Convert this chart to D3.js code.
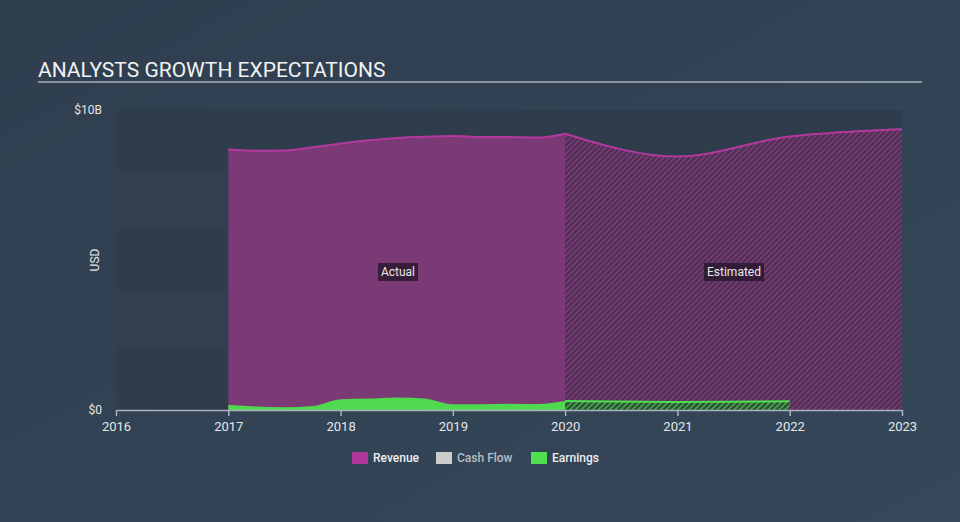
<!DOCTYPE html>
<html>
<head>
<meta charset="utf-8">
<script src="https://cdn.jsdelivr.net/npm/d3@7"></script>
<style>
html,body{margin:0;padding:0;}
body{width:960px;height:522px;overflow:hidden;background:#334354;font-family:Roboto,"Open Sans",sans-serif;}
</style>
</head>
<body>
<svg id="chart" width="960" height="522"></svg>
<script>
// ---- data ----
const revenueActualYears  = [2017, 2017.25, 2017.5, 2017.75, 2018, 2018.25, 2018.5, 2018.75, 2019, 2019.25, 2019.5, 2019.75, 2020];
const revenueActual       = [8.69, 8.64, 8.65, 8.76, 8.88, 8.99, 9.07, 9.11, 9.13, 9.10, 9.10, 9.08, 9.21];
const revenueEstYears     = [2020, 2021, 2022, 2022.5, 2023];
const revenueEst          = [9.21, 8.45, 9.12, 9.27, 9.36];
const earningsActualYears = [2017, 2017.25, 2017.5, 2017.75, 2018, 2018.25, 2018.5, 2018.75, 2019, 2019.25, 2019.5, 2019.75, 2020];
const earningsActual      = [0.17, 0.12, 0.09, 0.13, 0.36, 0.38, 0.42, 0.38, 0.19, 0.19, 0.21, 0.20, 0.30];
const earningsEstYears    = [2020, 2021, 2022];
const earningsEst         = [0.30, 0.27, 0.29];
const cashFlowYears       = [];
const cashFlow            = [];
const xTicks = [2016, 2017, 2018, 2019, 2020, 2021, 2022, 2023];
const yTickLabels = ["$0", "$10B"];
const legendItems = ["Revenue", "Cash Flow", "Earnings"];

// ---- layout ----
const svg = d3.select("#chart");
const W = 960, H = 522;
const m = {left:116, right:58, top:110, bottom:112};
const x = d3.scaleLinear().domain([2016, 2023]).range([m.left, W - m.right]);
const y = d3.scaleLinear().domain([0, 10]).range([H - m.bottom, m.top]);

const defs = svg.append("defs");
const bg = defs.append("linearGradient").attr("id","bg").attr("x1","0").attr("y1","0").attr("x2","1").attr("y2","1");
bg.append("stop").attr("offset","0").attr("stop-color","#2f3e4f");
bg.append("stop").attr("offset","1").attr("stop-color","#35475a");

function hatch(id, color, base){
  const p = defs.append("pattern").attr("id", id).attr("patternUnits","userSpaceOnUse")
    .attr("width",4).attr("height",4).attr("patternTransform","rotate(45)");
  p.append("rect").attr("width",4).attr("height",4).attr("fill",base);
  p.append("rect").attr("x",0).attr("y",0).attr("width",1.5).attr("height",4).attr("fill",color);
}
hatch("hatchRev", "#8c3583", "#46344f");
hatch("hatchEarn", "#45b845", "#2f4a3c");

svg.append("rect").attr("width",W).attr("height",H).attr("fill","url(#bg)");

// title
svg.append("text").attr("x",38).attr("y",77).attr("fill","#f2f2f2")
  .attr("font-size",21).attr("font-weight",400).text("ANALYSTS GROWTH EXPECTATIONS");
svg.append("line").attr("x1",38).attr("x2",922).attr("y1",82).attr("y2",82)
  .attr("stroke","#a9b0b8").attr("stroke-width",1.5);

// plot bands
const bandVals = [0,2,4,6,8];
svg.append("g").selectAll("rect").data(bandVals).join("rect")
  .attr("x", x(2016)).attr("width", x(2023) - x(2016))
  .attr("y", d => y(d + 2)).attr("height", d => y(d) - y(d + 2))
  .attr("fill", (d,i) => i % 2 === 0 ? "#2e3c4c" : "#323f50");

// areas
const area = d3.area().x(d => x(d[0])).y0(y(0)).y1(d => y(d[1])).curve(d3.curveMonotoneX);
const line = d3.line().x(d => x(d[0])).y(d => y(d[1])).curve(d3.curveMonotoneX);
const zip = (a,b) => a.map((v,i) => [v, b[i]]);

const revA = zip(revenueActualYears, revenueActual);
const revE = zip(revenueEstYears, revenueEst);
const earnA = zip(earningsActualYears, earningsActual);
const earnE = zip(earningsEstYears, earningsEst);

svg.append("path").attr("d", area(revA)).attr("fill","#7b3a75");
svg.append("path").attr("d", area(revE)).attr("fill","url(#hatchRev)");
svg.append("path").attr("d", line(revA)).attr("fill","none").attr("stroke","#b4399f").attr("stroke-width",2);
svg.append("path").attr("d", line(revE)).attr("fill","none").attr("stroke","#b4399f").attr("stroke-width",2);

svg.append("path").attr("d", area(earnA)).attr("fill","#4fd94f");
svg.append("path").attr("d", area(earnE)).attr("fill","url(#hatchEarn)");
svg.append("path").attr("d", line(earnE)).attr("fill","none").attr("stroke","#4fe04f").attr("stroke-width",2);

// x axis
const xAxis = d3.axisBottom(x).tickValues(xTicks).tickFormat(d3.format("d")).tickSize(6).tickSizeOuter(0);
const gx = svg.append("g").attr("transform", `translate(0,${y(0)})`).call(xAxis);
gx.select(".domain").attr("stroke","#a9b3be").attr("stroke-width",1.5);
gx.selectAll(".tick line").attr("stroke","#a9b3be").attr("stroke-width",1.5);
gx.selectAll(".tick text").attr("fill","#e6e6e6").attr("font-size",13).attr("font-family","Roboto,sans-serif").attr("dy","0.95em");

// y labels
svg.append("g").selectAll("text").data([0,10]).join("text")
  .attr("x", 102).attr("y", d => y(d) + 4).attr("text-anchor","end")
  .attr("fill","#e6e6e6").attr("font-size",12)
  .text((d,i) => yTickLabels[i]);
svg.append("text").attr("transform", `translate(99,${y(5)}) rotate(-90)`)
  .attr("text-anchor","middle").attr("fill","#e6e6e6").attr("font-size",12).text("USD");

// Actual / Estimated labels
function tag(cx, cy, txt){
  const g = svg.append("g");
  const t = g.append("text").attr("x",cx).attr("y",cy+4).attr("text-anchor","middle")
    .attr("fill","#e8e8e8").attr("font-size",12).text(txt);
  const bb = t.node().getBBox();
  g.insert("rect","text").attr("x",bb.x-3).attr("y",cy-9).attr("width",bb.width+6).attr("height",18)
    .attr("fill","#2a1930").attr("opacity",0.85);
}
tag(398, 272, "Actual");
tag(734, 272, "Estimated");

// legend
const legColors = ["#b0379b", "#cccccc", "#4fe04f"];
const legText = ["#eeeeee", "#b8bec6", "#eeeeee"];
const legX = [352, 436, 531];
const lg = svg.append("g");
legendItems.forEach((name,i) => {
  lg.append("rect").attr("x",legX[i]).attr("y",452).attr("width",16).attr("height",12).attr("fill",legColors[i]);
  lg.append("text").attr("x",legX[i]+21).attr("y",462).attr("fill",legText[i])
    .attr("font-size",12).attr("font-weight",500).text(name);
});
</script>
</body>
</html>
